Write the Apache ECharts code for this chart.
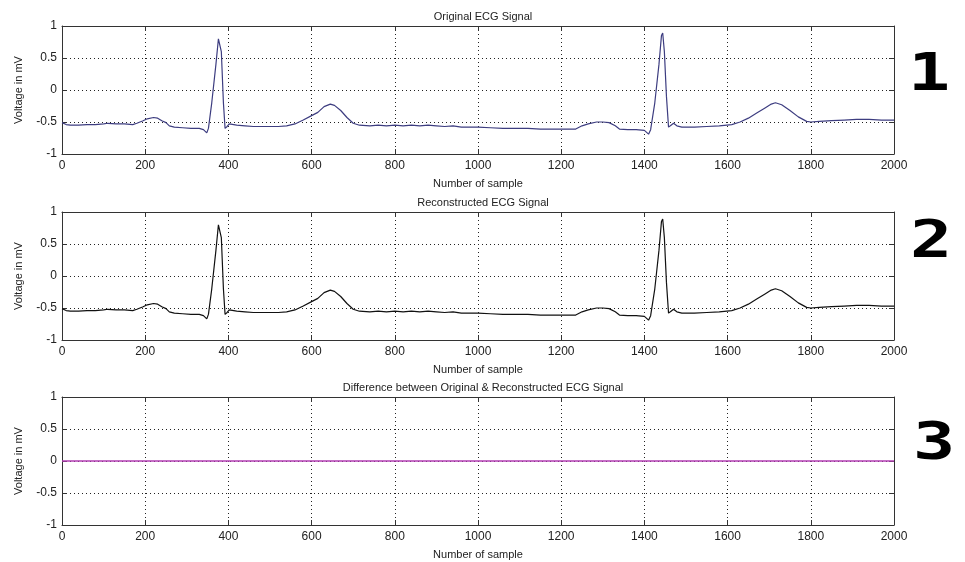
<!DOCTYPE html>
<html>
<head>
<meta charset="utf-8">
<script src="https://cdn.jsdelivr.net/npm/echarts@6/dist/echarts.min.js"></script>
<style>html,body{margin:0;padding:0;background:#fff;}#c{width:965px;height:562px;}</style>
</head>
<body>
<div id="c"></div>
<script>
// ---- data ----
const sampleIdx = [0,10,20,40,60,80,100,110,130,150,170,180,195,205,220,230,240,250,258,270,290,310,330,340,348,352,360,370,376,379,383,388,392,397,402,420,440,460,480,500,520,540,560,580,600,615,630,645,655,670,685,700,715,740,760,780,800,820,840,860,880,900,920,940,960,980,1000,1030,1060,1090,1120,1150,1180,1210,1235,1250,1265,1285,1300,1315,1330,1340,1360,1380,1400,1410,1415,1425,1435,1441,1444,1448,1453,1458,1464,1470,1478,1490,1520,1550,1580,1610,1630,1650,1670,1690,1705,1715,1730,1750,1770,1790,1800,1820,1850,1880,1910,1940,1970,2000];
const originalMv = [-0.51,-0.54,-0.55,-0.55,-0.54,-0.54,-0.53,-0.52,-0.53,-0.53,-0.54,-0.52,-0.48,-0.45,-0.43,-0.44,-0.48,-0.51,-0.56,-0.58,-0.59,-0.60,-0.60,-0.62,-0.67,-0.60,-0.20,0.40,0.80,0.82,0.60,-0.20,-0.60,-0.57,-0.53,-0.55,-0.56,-0.57,-0.57,-0.57,-0.57,-0.56,-0.53,-0.47,-0.40,-0.35,-0.26,-0.22,-0.24,-0.32,-0.43,-0.52,-0.55,-0.56,-0.55,-0.56,-0.55,-0.56,-0.55,-0.56,-0.55,-0.56,-0.57,-0.56,-0.58,-0.58,-0.58,-0.59,-0.60,-0.60,-0.60,-0.61,-0.61,-0.61,-0.61,-0.56,-0.53,-0.50,-0.50,-0.51,-0.56,-0.61,-0.62,-0.62,-0.63,-0.69,-0.62,-0.20,0.40,0.85,0.89,0.60,-0.10,-0.58,-0.55,-0.52,-0.56,-0.58,-0.58,-0.57,-0.56,-0.54,-0.50,-0.44,-0.36,-0.28,-0.22,-0.20,-0.23,-0.32,-0.42,-0.49,-0.50,-0.49,-0.48,-0.47,-0.46,-0.46,-0.47,-0.47];
const reconstructedMv = [-0.51,-0.54,-0.55,-0.55,-0.54,-0.54,-0.53,-0.52,-0.53,-0.53,-0.54,-0.52,-0.48,-0.45,-0.43,-0.44,-0.48,-0.51,-0.56,-0.58,-0.59,-0.60,-0.60,-0.62,-0.67,-0.60,-0.20,0.40,0.80,0.82,0.60,-0.20,-0.60,-0.57,-0.53,-0.55,-0.56,-0.57,-0.57,-0.57,-0.57,-0.56,-0.53,-0.47,-0.40,-0.35,-0.26,-0.22,-0.24,-0.32,-0.43,-0.52,-0.55,-0.56,-0.55,-0.56,-0.55,-0.56,-0.55,-0.56,-0.55,-0.56,-0.57,-0.56,-0.58,-0.58,-0.58,-0.59,-0.60,-0.60,-0.60,-0.61,-0.61,-0.61,-0.61,-0.56,-0.53,-0.50,-0.50,-0.51,-0.56,-0.61,-0.62,-0.62,-0.63,-0.69,-0.62,-0.20,0.40,0.85,0.89,0.60,-0.10,-0.58,-0.55,-0.52,-0.56,-0.58,-0.58,-0.57,-0.56,-0.54,-0.50,-0.44,-0.36,-0.28,-0.22,-0.20,-0.23,-0.32,-0.42,-0.49,-0.50,-0.49,-0.48,-0.47,-0.46,-0.46,-0.47,-0.47];
const diffIdx = [0, 2000];
const differenceMv = [0, 0];
const xTicks = [0,200,400,600,800,1000,1200,1400,1600,1800,2000];
const yTicks = [-1,-0.5,0,0.5,1];
const panelTitles = ['Original ECG Signal','Reconstructed ECG Signal','Difference between Original & Reconstructed ECG Signal'];
const panelTags = ['1','2','3'];
const xName = 'Number of sample';
const yName = 'Voltage in mV';

// ---- build option ----
const font = 'Liberation Sans';
const tops = [26, 212, 397];
const gridH = 128;
const gridL = 62, gridW = 832;
const boxColor = '#333';
const grids = [], xAxes = [], yAxes = [], series = [], titles = [], graphics = [];
const zip = (xs, ys) => xs.map((x, i) => [x, ys[i]]);
const seriesData = [zip(sampleIdx, originalMv), zip(sampleIdx, reconstructedMv), zip(diffIdx, differenceMv)];
const lineColors = ['#3d3d80', '#111111', '#b23cb2'];
const lineWidths = [1.2, 1.2, 1.6];

tops.forEach((t, i) => {
  grids.push({left: gridL, top: t, width: gridW, height: gridH, containLabel: false});
  const xBase = {
    type: 'value', gridIndex: i, min: xTicks[0], max: xTicks[xTicks.length-1], interval: 200,
    axisLine: {show: true, onZero: false, lineStyle: {color: boxColor, width: 1}},
    axisTick: {show: true, inside: true, length: 5, lineStyle: {color: boxColor}},
  };
  xAxes.push(Object.assign({}, xBase, {
    position: 'bottom',
    name: xName, nameLocation: 'middle', nameGap: 24,
    nameTextStyle: {fontFamily: font, fontSize: 11, color: '#222'},
    axisLabel: {fontFamily: font, fontSize: 12, color: '#222', margin: 6, formatter: v => String(v)},
    splitLine: {show: true, lineStyle: {type: [1, 3], color: '#222', width: 1}}
  }));
  xAxes.push(Object.assign({}, xBase, {
    position: 'top', axisLabel: {show: false}, splitLine: {show: false}
  }));
  const yBase = {
    type: 'value', gridIndex: i, min: yTicks[0], max: yTicks[yTicks.length-1], interval: 0.5,
    axisLine: {show: true, onZero: false, lineStyle: {color: boxColor, width: 1}},
    axisTick: {show: true, inside: true, length: 5, lineStyle: {color: boxColor}},
  };
  yAxes.push(Object.assign({}, yBase, {
    position: 'left',
    name: yName, nameLocation: 'middle', nameGap: 38, nameRotate: 90,
    nameTextStyle: {fontFamily: font, fontSize: 11, color: '#222'},
    axisLabel: {fontFamily: font, fontSize: 12, color: '#222', margin: 5,
      formatter: v => String(v)},
    splitLine: {show: true, lineStyle: {type: [1, 3], color: '#222', width: 1}}
  }));
  yAxes.push(Object.assign({}, yBase, {
    position: 'right', axisLabel: {show: false}, splitLine: {show: false}
  }));
  series.push({
    type: 'line', xAxisIndex: i*2, yAxisIndex: i*2, data: seriesData[i],
    showSymbol: false, symbol: 'none', animation: false, z: 5,
    lineStyle: {color: lineColors[i], width: lineWidths[i]}
  });
  titles.push({
    text: panelTitles[i], left: gridL + gridW/2, top: t - 20, textAlign: 'center',
    textStyle: {fontFamily: font, fontSize: 11, fontWeight: 'normal', color: '#222'}
  });
});

const tagPos = [[908, 50], [910, 217], [913, 419]];
panelTags.forEach((tg, i) => {
  graphics.push({
    type: 'text', x: tagPos[i][0], y: tagPos[i][1], scaleX: 1.35,
    style: {text: tg, font: 'bold 52px "DejaVu Sans Mono"', fill: '#000', textVerticalAlign: 'top'}
  });
});

const chart = echarts.init(document.getElementById('c'), null, {renderer: 'canvas'});
chart.setOption({
  backgroundColor: '#fff',
  animation: false,
  title: titles,
  grid: grids,
  xAxis: xAxes,
  yAxis: yAxes,
  series: series,
  graphic: graphics
});
</script>
</body>
</html>
